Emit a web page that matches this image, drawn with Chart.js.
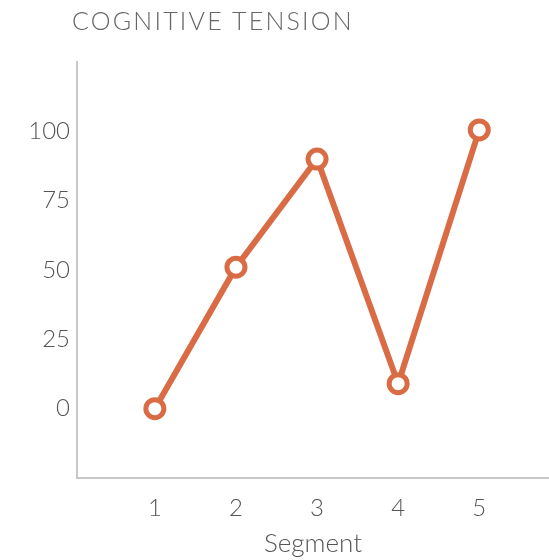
<!DOCTYPE html>
<html>
<head>
<meta charset="utf-8">
<script src="https://cdn.jsdelivr.net/npm/chart.js@4"></script>
<style>
  body { margin: 0; background: #fff; }
  #wrap { position: relative; width: 549px; height: 560px; }
  #title { position: absolute; left: 72px; top: 5px; font-family: Lato, sans-serif; font-weight: 300; font-size: 25px; color: #666; letter-spacing: 2.2px; }
</style>
</head>
<body>
<div id="wrap">
  <div id="title">COGNITIVE TENSION</div>
  <canvas id="chart" width="549" height="560"></canvas>
</div>
<script>
// segments along the x axis and tension values
const segments = [1, 2, 3, 4, 5]
const tension = [0, 51, 90, 9, 100.5]
const yTicks = [0, 25, 50, 75, 100]

const orange = 'rgb(217, 108, 69)'
const axisGray = '#c8c8c8'
const textGray = '#555'

let points = segments.map((s, i) => ({ x: s, y: tension[i] }))

new Chart(document.getElementById('chart'), {
  type: 'line',
  data: {
    datasets: [{
      data: points,
      borderColor: orange,
      borderWidth: 6,
      pointRadius: 9,
      pointBorderWidth: 5,
      pointBackgroundColor: '#fff',
      pointBorderColor: orange,
      tension: 0,
      clip: false
    }]
  },
  options: {
    responsive: false,
    animation: false,
    layout: { autoPadding: false, padding: { top: 62, left: 0, right: 0, bottom: 1 } },
    plugins: { legend: { display: false }, tooltip: { enabled: false } },
    scales: {
      x: {
        type: 'linear',
        min: 0.04,
        max: 5.86,
        afterBuildTicks: axis => { axis.ticks = segments.map(v => ({ value: v })) },
        afterFit: axis => { axis.height = 81 },
        grid: { display: false, drawTicks: false },
        border: { display: true, color: axisGray, width: 2 },
        ticks: { color: textGray, padding: 16, font: { family: 'Lato', size: 24, weight: 300 } },
        title: { display: true, text: 'Segment', color: textGray, padding: { top: 0, bottom: 0 }, font: { family: 'Lato', size: 26, weight: 300 } }
      },
      y: {
        min: -25,
        max: 125,
        afterBuildTicks: axis => { axis.ticks = yTicks.map(v => ({ value: v })) },
        afterFit: axis => { axis.width = 77 },
        grid: { display: false, drawTicks: false },
        border: { display: true, color: axisGray, width: 2 },
        ticks: { color: textGray, padding: 7, font: { family: 'Lato', size: 24, weight: 300 } }
      }
    }
  }
})
</script>
</body>
</html>
